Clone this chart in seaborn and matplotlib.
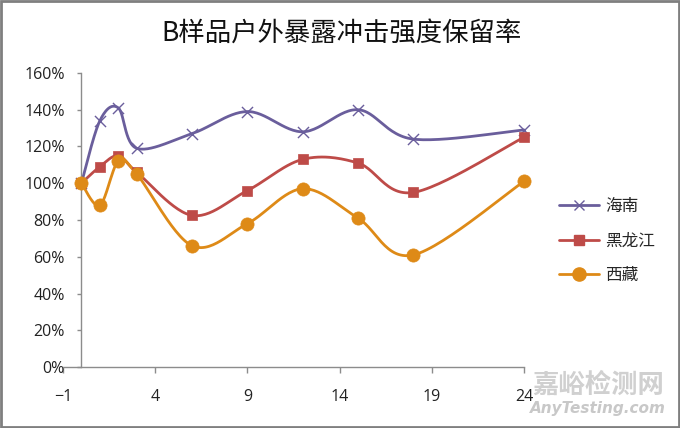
import numpy as np
import pandas as pd
import matplotlib
matplotlib.use("Agg")
import matplotlib.pyplot as plt
import seaborn as sns
from matplotlib.lines import Line2D
from matplotlib.patches import Rectangle
from matplotlib.ticker import PercentFormatter

# data (retention, %)
months = [0, 1, 2, 3, 6, 9, 12, 15, 18, 24]
hainan = [100, 134, 141, 119, 127, 139, 128, 140, 124, 129]
heilongjiang = [100, 109, 115, 106, 82.5, 96, 113, 111, 95, 125]
xizang = [100, 88, 112, 105, 66, 78, 97, 81, 61, 101]

series_names = ["海南", "黑龙江", "西藏"]
series_values = [hainan, heilongjiang, xizang]
colors = ["#6A5E9C", "#BE4B48", "#DE8A17"]
markers = ["x", "s", "o"]
marker_sizes = [8, 7, 9.5]

x_ticks = [-1, 4, 9, 14, 19, 24]
y_ticks = [0, 20, 40, 60, 80, 100, 120, 140, 160]
title = "B样品户外暴露冲击强度保留率"


def smooth(xs, ys, n=30):
    # Excel-like smoothed line: Catmull-Rom through the points as cubic Beziers
    p = np.column_stack([xs, ys]).astype(float)
    p = np.vstack([p[0], p, p[-1]])
    out = []
    for i in range(1, len(p) - 2):
        p0, p1, p2, p3 = p[i - 1], p[i], p[i + 1], p[i + 2]
        c1 = p1 + (p2 - p0) / 6
        c2 = p2 - (p3 - p1) / 6
        t = np.linspace(0, 1, n)[:, None]
        seg = ((1 - t) ** 3) * p1 + 3 * ((1 - t) ** 2) * t * c1 + 3 * (1 - t) * t ** 2 * c2 + t ** 3 * p2
        out.append(seg if i == 1 else seg[1:])
    s = np.vstack(out)
    return s[:, 0], s[:, 1]


sns.set_style("white")
plt.rcParams["font.family"] = ["Open Sans", "Noto Sans CJK SC", "DejaVu Sans"]

fig = plt.figure(figsize=(6.8, 4.28), dpi=100)
ax = fig.add_axes([0.0926, 0.1425, 0.678, 0.687])

for name, vals, col, mk, ms in zip(series_names, series_values, colors, markers, marker_sizes):
    sx, sy = smooth(months, vals)
    curve = pd.DataFrame({"x": sx, "y": sy})
    sns.lineplot(data=curve, x="x", y="y", ax=ax, color=col, linewidth=2.0,
                 sort=False, estimator=None, clip_on=False)
    pts = pd.DataFrame({"x": months, "y": vals})
    if mk == "x":
        sns.scatterplot(data=pts, x="x", y="y", ax=ax, marker="x", color=col,
                        s=ms ** 2, linewidth=1.0, clip_on=False, zorder=3)
    else:
        sns.scatterplot(data=pts, x="x", y="y", ax=ax, marker=mk, color=col,
                        edgecolor=col, s=ms ** 2, linewidth=0.5, clip_on=False, zorder=3)

ax.set_xlim(-1, 24)
ax.set_ylim(0, 160)
ax.set_xticks(x_ticks)
ax.set_yticks(y_ticks)
ax.yaxis.set_major_formatter(PercentFormatter(decimals=0))
ax.set_xlabel("")
ax.set_ylabel("")

sns.despine(ax=ax)
ax.spines["left"].set_position(("data", 0))
for sp in ["left", "bottom"]:
    ax.spines[sp].set_color("#8C8C8C")
    ax.spines[sp].set_linewidth(1.0)
ax.tick_params(axis="x", direction="out", length=4.5, width=1.0, color="#8C8C8C",
               pad=11, labelsize=11.5, labelcolor="#222222")
ax.tick_params(axis="y", direction="out", length=3, width=1.0, color="#8C8C8C",
               pad=9, labelsize=11.5, labelcolor="#222222")
ax.tick_params(bottom=True, left=True)

fig.text(0.502, 0.923, title, ha="center", va="center", fontsize=19,
         fontweight="normal", color="#111111", family=["Noto Sans CJK SC", "DejaVu Sans"])

handles = [Line2D([0], [0], color=c, marker=m, markersize=ms * (0.9 if m == "x" else 1),
                  markeredgewidth=1.0, linewidth=2.0)
           for c, m, ms in zip(colors, markers, marker_sizes)]
fig.legend(handles, series_names, loc="center left", bbox_to_anchor=(0.80, 0.437),
           frameon=False, handlelength=2.4, handletextpad=0.35, labelspacing=1.07,
           prop={"family": ["Noto Sans CJK SC", "DejaVu Sans"], "size": 12})

# watermark
fig.text(0.88, 0.10, "嘉峪检测网", ha="center", va="center", fontsize=19, fontweight="bold",
         color="#D0D0D0", family=["Noto Sans CJK SC", "DejaVu Sans"], zorder=5)
fig.text(0.88, 0.045, "AnyTesting.com", ha="center", va="center", fontsize=11,
         fontweight="bold", style="italic", color="#C8C8C8", family="DejaVu Sans", zorder=5)

fig.patches.append(Rectangle((0.002, 0.003), 0.996, 0.994, transform=fig.transFigure,
                             fill=False, edgecolor="#7F7F7F", linewidth=2.0))

fig.savefig("out.png", dpi=100)
plt.close(fig)
